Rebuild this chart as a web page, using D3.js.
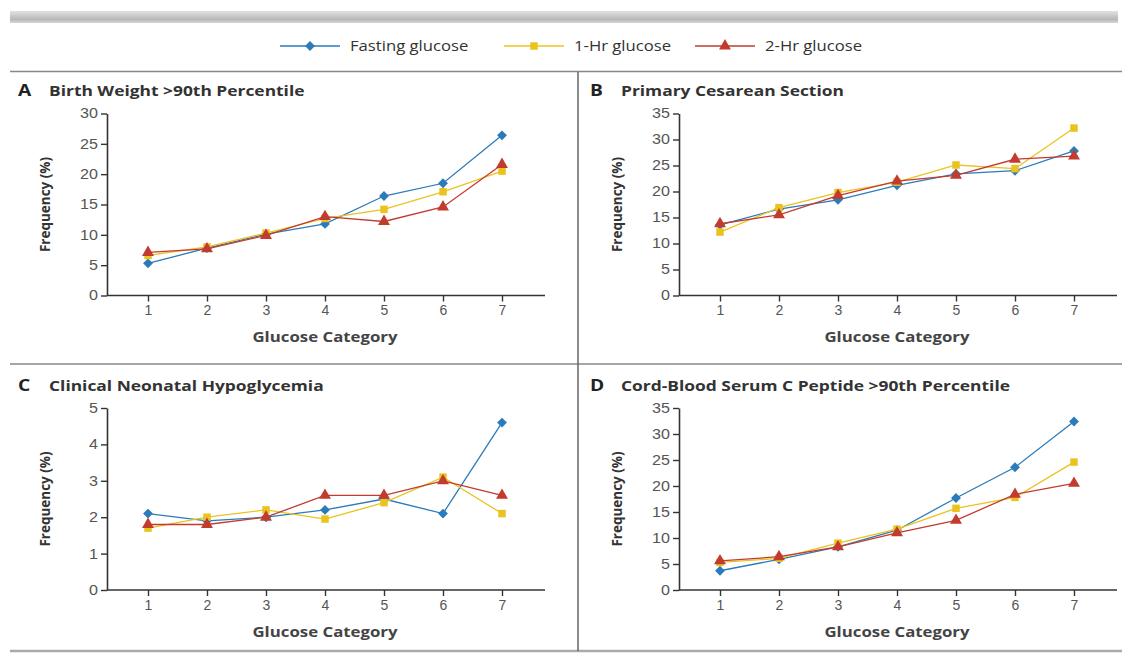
<!DOCTYPE html>
<meta charset="utf-8">
<style>
body { margin: 0; background: #fff; }
svg { display: block; font-family: "Open Sans", sans-serif; }
.tick text { font-size: 14px; fill: #555; }
.panel-title { font-size: 14.5px; font-weight: bold; fill: #333; }
.panel-letter { font-size: 16px; font-weight: bold; fill: #222; }
.x-label { font-size: 14px; font-weight: bold; fill: #444; }
.y-label { font-size: 13.5px; font-weight: bold; fill: #333; }
.legend-text { font-size: 14.5px; fill: #333; }
</style>
<body>
<svg width="1122" height="653"></svg>
<script src="https://d3js.org/d3.v7.min.js"></script>
<script>

// categories on the x axis
const categories = [1, 2, 3, 4, 5, 6, 7];
const seriesNames = ["Fasting glucose", "1-Hr glucose", "2-Hr glucose"];
const seriesColors = ["#2b7bba", "#eac31e", "#c23b2f"];

// A - Birth weight > 90th percentile
const birthWeightFasting = [5.3, 7.8, 10.1, 11.8, 16.4, 18.5, 26.4];
const birthWeightOneHr   = [6.6, 8.0, 10.3, 12.7, 14.2, 17.1, 20.5];
const birthWeightTwoHr   = [7.1, 7.7, 9.9, 13.0, 12.2, 14.6, 21.6];

// B - Primary cesarean section
const cesareanFasting = [13.6, 16.6, 18.4, 21.2, 23.4, 24.0, 27.8];
const cesareanOneHr   = [12.2, 16.9, 19.8, 21.8, 25.1, 24.4, 32.2];
const cesareanTwoHr   = [13.8, 15.5, 19.2, 22.0, 23.1, 26.2, 26.8];

// C - Clinical neonatal hypoglycemia
const hypoFasting = [2.1, 1.9, 2.0, 2.2, 2.5, 2.1, 4.6];
const hypoOneHr   = [1.7, 2.0, 2.2, 1.95, 2.4, 3.1, 2.1];
const hypoTwoHr   = [1.8, 1.8, 2.0, 2.6, 2.6, 3.0, 2.6];

// D - Cord-blood serum C peptide > 90th percentile
const cPeptideFasting = [3.7, 5.9, 8.3, 11.5, 17.7, 23.6, 32.4];
const cPeptideOneHr   = [5.3, 6.1, 9.0, 11.7, 15.7, 17.8, 24.6];
const cPeptideTwoHr   = [5.6, 6.4, 8.3, 11.0, 13.4, 18.4, 20.5];

// y tick labels per panel
const ticksA = [0, 5, 10, 15, 20, 25, 30];
const ticksB = [0, 5, 10, 15, 20, 25, 30, 35];
const ticksC = [0, 1, 2, 3, 4, 5];
const ticksD = [0, 5, 10, 15, 20, 25, 30, 35];

const panels = [
  { letter: "A", title: "Birth Weight >90th Percentile", ticks: ticksA,
    series: [birthWeightFasting, birthWeightOneHr, birthWeightTwoHr], x: 0, y: 0 },
  { letter: "B", title: "Primary Cesarean Section", ticks: ticksB,
    series: [cesareanFasting, cesareanOneHr, cesareanTwoHr], x: 572, y: 0 },
  { letter: "C", title: "Clinical Neonatal Hypoglycemia", ticks: ticksC,
    series: [hypoFasting, hypoOneHr, hypoTwoHr], x: 0, y: 294.5 },
  { letter: "D", title: "Cord-Blood Serum C Peptide >90th Percentile", ticks: ticksD,
    series: [cPeptideFasting, cPeptideOneHr, cPeptideTwoHr], x: 572, y: 294.5 }
];

const symbols = [d3.symbolDiamond2, d3.symbolSquare, d3.symbolTriangle];
const symbolSizes = [62, 56, 62];
const stretch = 1.2; // the original type is set wide

const svg = d3.select("svg");

// top shaded band
const defs = svg.append("defs");
const grad = defs.append("linearGradient")
    .attr("id", "band").attr("x1", 0).attr("y1", 0).attr("x2", 0).attr("y2", 1);
grad.append("stop").attr("offset", "0%").attr("stop-color", "#e2e2e2");
grad.append("stop").attr("offset", "70%").attr("stop-color", "#b8b8b8");
grad.append("stop").attr("offset", "100%").attr("stop-color", "#d6d6d6");
svg.append("rect")
    .attr("x", 10).attr("y", 11).attr("width", 1108).attr("height", 12)
    .attr("fill", "url(#band)");

// frame lines
svg.append("line").attr("x1", 10).attr("x2", 1122).attr("y1", 71.5).attr("y2", 71.5)
    .attr("stroke", "#888").attr("stroke-width", 1.5);
svg.append("line").attr("x1", 10).attr("x2", 1122).attr("y1", 364).attr("y2", 364)
    .attr("stroke", "#888").attr("stroke-width", 1.5);
svg.append("line").attr("x1", 10).attr("x2", 1122).attr("y1", 651).attr("y2", 651)
    .attr("stroke", "#aaa").attr("stroke-width", 2.5);
svg.append("line").attr("x1", 578).attr("x2", 578).attr("y1", 72).attr("y2", 651)
    .attr("stroke", "#666").attr("stroke-width", 1.5);

// legend
const legend = svg.append("g").attr("transform", "translate(0,46)");
const legendX = [280, 504, 695];
seriesNames.forEach((name, i) => {
  const g = legend.append("g").attr("transform", `translate(${legendX[i]},0)`);
  g.append("line").attr("x1", 0).attr("x2", 60)
      .attr("stroke", seriesColors[i]).attr("stroke-width", 1.3);
  g.append("path")
      .attr("d", d3.symbol(symbols[i], symbolSizes[i])())
      .attr("transform", "translate(30,0)")
      .attr("fill", seriesColors[i]);
  g.append("text").attr("class", "legend-text")
      .attr("transform", `translate(70,0) scale(1.15,1)`)
      .attr("dy", "0.35em").text(name);
});

// panels
const axisLeft = 107, axisEnd = 545;
panels.forEach(p => {
  const g = svg.append("g").attr("transform", `translate(${p.x},${p.y})`);

  const x = d3.scaleLinear().domain([1, 7]).range([148, 502]);
  const y = d3.scaleLinear().domain([0, d3.max(p.ticks)]).range([295.5, 113.5]);

  g.append("text").attr("class", "panel-letter")
      .attr("transform", `translate(18,96) scale(${stretch},1)`).text(p.letter);
  g.append("text").attr("class", "panel-title")
      .attr("transform", `translate(49,96) scale(${stretch},1)`).text(p.title);

  const yAxis = g.append("g")
      .attr("transform", `translate(${axisLeft},0)`)
      .call(d3.axisLeft(y).tickValues(p.ticks).tickFormat(d3.format("d"))
        .tickSize(6).tickPadding(3).tickSizeOuter(0));
  yAxis.select(".domain").attr("stroke", "#333").attr("stroke-width", 1.6);
  yAxis.selectAll(".tick line").attr("stroke", "#333").attr("stroke-width", 1.4);
  yAxis.selectAll(".tick text").attr("transform", "translate(-9,0) scale(1.15,1)").attr("x", 0);

  const xAxis = g.append("g")
      .attr("transform", `translate(0,${y(0)})`)
      .call(d3.axisBottom(x).tickValues(categories).tickFormat(d3.format("d"))
        .tickSize(6).tickPadding(4).tickSizeOuter(0));
  xAxis.select(".domain").attr("d", `M${axisLeft},0H${axisEnd}`)
      .attr("stroke", "#333").attr("stroke-width", 1.6);
  xAxis.selectAll(".tick line").attr("stroke", "#333").attr("stroke-width", 1.4);

  g.append("text").attr("class", "x-label")
      .attr("transform", `translate(325,342) scale(${stretch},1)`)
      .attr("text-anchor", "middle")
      .text("Glucose Category");
  g.append("text").attr("class", "y-label")
      .attr("transform", `translate(50,${(y(0) + y(d3.max(p.ticks))) / 2}) rotate(-90)`)
      .attr("text-anchor", "middle")
      .text("Frequency (%)");

  const line = d3.line().x((d, i) => x(categories[i])).y(d => y(d));

  p.series.forEach((vals, s) => {
    g.append("path")
        .datum(vals)
        .attr("d", line)
        .attr("fill", "none")
        .attr("stroke", seriesColors[s])
        .attr("stroke-width", 1.3);
    g.selectAll(null)
      .data(vals)
      .join("path")
        .attr("d", d3.symbol(symbols[s], symbolSizes[s])())
        .attr("transform", (d, i) => `translate(${x(categories[i])},${y(d)})`)
        .attr("fill", seriesColors[s]);
  });
});

</script>
</body>
